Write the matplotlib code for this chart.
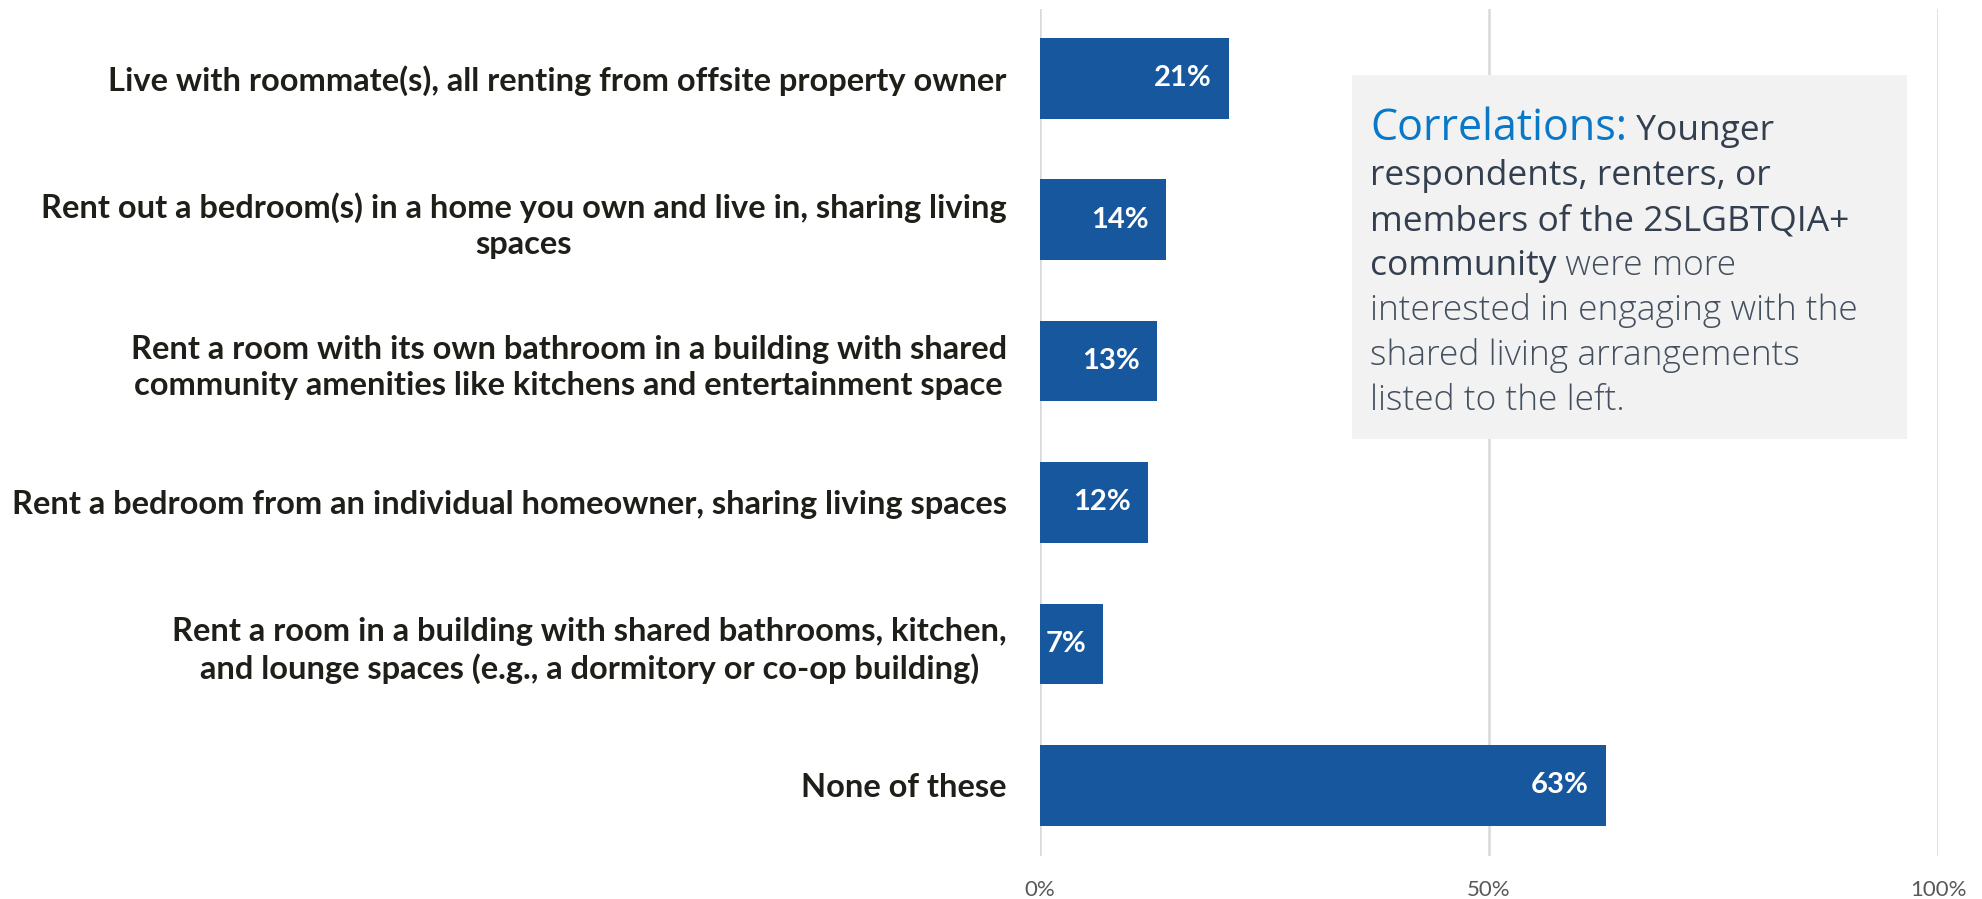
import matplotlib
matplotlib.use("Agg")
import matplotlib.pyplot as plt
from matplotlib.patches import Rectangle

# survey answers and share of respondents (%)
categories = [
    "Live with roommate(s), all renting from offsite property owner",
    "Rent out a bedroom(s) in a home you own and live in, sharing living\nspaces",
    "Rent a room with its own bathroom in a building with shared\ncommunity amenities like kitchens and entertainment space",
    "Rent a bedroom from an individual homeowner, sharing living spaces",
    "Rent a room in a building with shared bathrooms, kitchen,\nand lounge spaces (e.g., a dormitory or co-op building)",
    "None of these",
]
values = [21, 14, 13, 12, 7, 63]
x_ticks = [0, 50, 100]
x_tick_labels = ["0%", "50%", "100%"]

# side note, split into (text, style) pieces per line
note_lines = [
    [("Correlations:", "head"), (" Younger", "dark")],
    [("respondents, renters, or", "dark")],
    [("members of the 2SLGBTQIA+", "dark")],
    [("community", "dark"), (" were more", "light")],
    [("interested in engaging with the", "light")],
    [("shared living arrangements", "light")],
    [("listed to the left.", "light")],
]

bar_color = "#17579E"
label_font = "Lato"
note_font = "Open Sans"

W, H = 1982, 899
fig = plt.figure(figsize=(W / 100, H / 100), dpi=100)
ax = fig.add_axes([1040 / W, 43 / H, 898 / W, 847 / H])

y = list(range(len(categories)))
ax.barh(y, values, height=0.57, color=bar_color, zorder=3)
for yi, v in zip(y, values):
    ax.annotate(f"{v}%", xy=(v, yi), xytext=(-12, 0), textcoords="offset points",
                ha="right", va="center", color="white", fontsize=21,
                fontweight="bold", family=label_font, zorder=4)

ax.set_xlim(0, 100)
ax.set_ylim(5.5, -0.49)
ax.set_xticks(x_ticks)
ax.set_xticklabels(x_tick_labels, fontsize=16, color="#595959", family=label_font)
ax.set_yticks(y)
ax.set_yticklabels(categories, fontsize=23.5, fontweight="bold", color="#1F1F1A",
                   family=label_font, linespacing=1.3)
for lbl in ax.get_yticklabels():
    lbl.set_multialignment("center")
ax.tick_params(axis="x", length=0, pad=17)
ax.tick_params(axis="y", length=0, pad=24)

ax.grid(axis="x", color="#D9D9D9", linewidth=1.8, zorder=0)
for s in ax.spines.values():
    s.set_visible(False)

# grey note box on the right
fig.patches.append(Rectangle((1352 / W, 1 - 439 / H), 555 / W, 364 / H,
                             transform=fig.transFigure, facecolor="#F2F2F2",
                             edgecolor="none", zorder=5))

styles = {
    "head": dict(fontsize=31, color="#0A78C8"),
    "dark": dict(fontsize=25.5, color="#333F4F"),
    "light": dict(fontsize=25.5, color="#44505F", fontweight="light"),
}
renderer = fig.canvas.get_renderer()
x0 = 1370
for i, pieces in enumerate(note_lines):
    base = H - (140 + 45 * i)
    x = x0
    for txt, st in pieces:
        t = fig.text(x / W, base / H, txt, ha="left", va="baseline",
                     family=note_font, zorder=6, **styles[st])
        x = t.get_window_extent(renderer).x1

fig.savefig("out.png", dpi=100)
